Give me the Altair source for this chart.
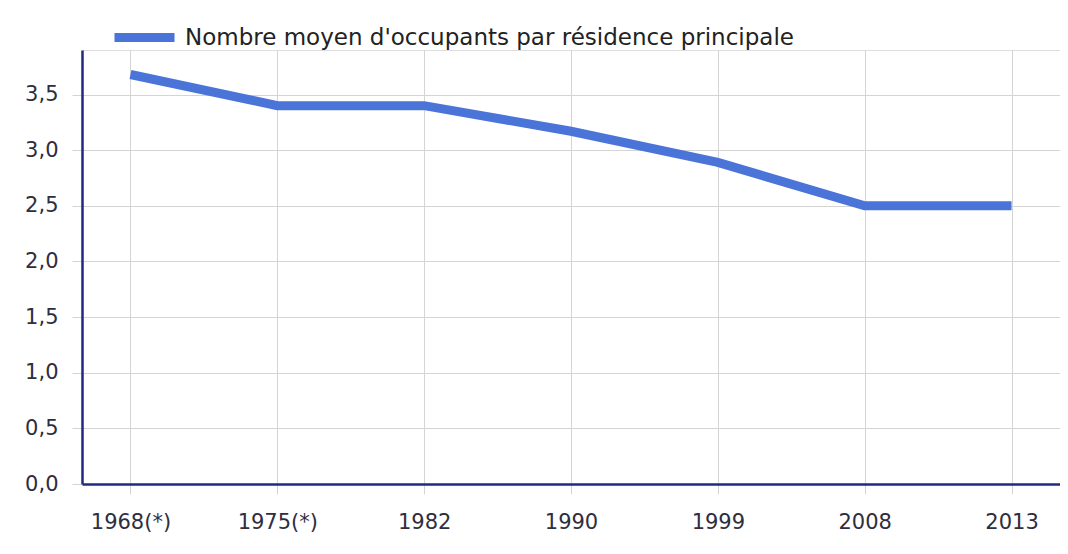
import altair as alt
import pandas as pd

annees = ["1968(*)", "1975(*)", "1982", "1990", "1999", "2008", "2013"]
occupants = [3.68, 3.40, 3.40, 3.17, 2.89, 2.50, 2.50]
serie = "Nombre moyen d'occupants par résidence principale"
y_ticks = [0.0, 0.5, 1.0, 1.5, 2.0, 2.5, 3.0, 3.5]

df = pd.DataFrame({"annee": annees, "valeur": occupants, "serie": [serie] * len(annees)})

FONT = "DejaVu Sans"
NAVY = "#1f2a80"
BLUE = "#4a74d8"
GRID = "#d4d4d4"
LABEL = "#2e2e3e"

chart = (
    alt.Chart(df)
    .mark_line(strokeWidth=9, strokeCap="butt", strokeJoin="miter")
    .encode(
        x=alt.X(
            "annee:O",
            sort=annees,
            scale=alt.Scale(type="point", padding=0.33),
            axis=alt.Axis(
                title=None,
                labelAngle=0,
                labelFont=FONT,
                labelFontSize=21,
                labelColor=LABEL,
                grid=True,
                gridColor=GRID,
                gridWidth=1,
                domainColor=NAVY,
                domainWidth=2.5,
                tickColor=GRID,
                tickSize=10,
                labelPadding=17,
            ),
        ),
        y=alt.Y(
            "valeur:Q",
            scale=alt.Scale(domain=[0, 3.9], nice=False, zero=True),
            axis=alt.Axis(
                title=None,
                values=y_ticks,
                labelExpr="replace(format(datum.value, '.1f'), '.', ',')",
                labelFont=FONT,
                labelFontSize=21,
                labelColor=LABEL,
                grid=True,
                gridColor=GRID,
                gridWidth=1,
                domainColor=NAVY,
                domainWidth=2.5,
                tickColor=GRID,
                tickSize=10,
                labelPadding=14,
            ),
        ),
        color=alt.Color(
            "serie:N",
            scale=alt.Scale(range=[BLUE]),
            legend=alt.Legend(
                title=None,
                orient="none",
                legendX=28,
                legendY=-47,
                symbolType="stroke",
                symbolSize=3600,
                symbolStrokeWidth=9,
                symbolStrokeColor=BLUE,
                labelFont=FONT,
                labelFontSize=23,
                labelColor="#222222",
                labelOffset=6,
                labelLimit=900,
            ),
        ),
    )
    .properties(
        width=978,
        height=434,
        autosize=alt.AutoSizeParams(type="none"),
        padding={"left": 74, "top": 42, "right": 0, "bottom": 62},
    )
    .configure_view(stroke=None)
    .configure(background="white")
)

chart.save("out.html", embed_options={"renderer": "svg", "actions": False})
